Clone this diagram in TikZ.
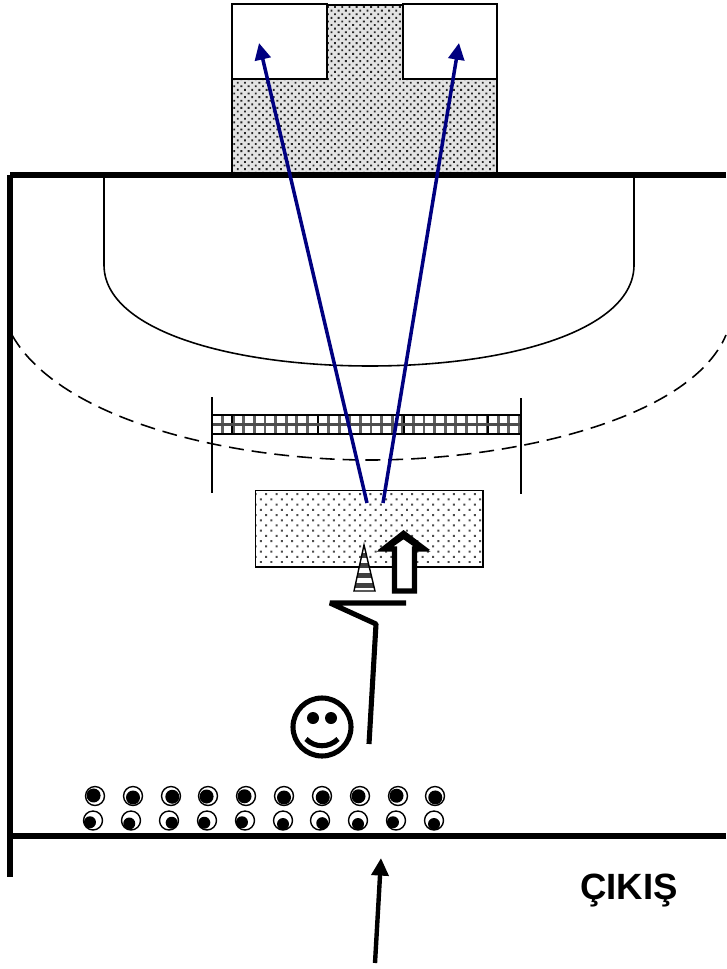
\documentclass[tikz,border=0pt]{standalone}
\usepackage{fontspec}
\setmainfont{Liberation Sans}
\usetikzlibrary{arrows.meta,patterns.meta}
\tikzset{
  wall/.style={line width=2.9pt},
  thinline/.style={line width=0.9pt},
  shot/.style={draw={rgb,255:red,0;green,0;blue,128}, line width=2pt, -{Triangle[length=9.5pt,width=9pt]}},
  denseDots/.style={pattern={Dots[distance=2.9pt,radius=0.75pt,angle=45]}, pattern color=black!85},
  looseDots/.style={pattern={Dots[distance=4.2pt,radius=0.8pt,angle=45]}, pattern color=black!70},
  ball/.style={circle, draw, fill=white, line width=0.8pt, inner sep=0pt, minimum size=10.8pt}
}
\begin{document}
\begin{tikzpicture}[x=0.02cm,y=-0.02cm]
    \useasboundingbox (0,0) rectangle (726,969);
    % Goal box
    \fill[gray!22] (232,80) rectangle (497,175);
    \fill[gray!22] (327,5) rectangle (403,80);
    \fill[denseDots] (232,80) rectangle (497,175);
    \fill[denseDots] (327,5) rectangle (403,80);
    \draw[line width=0.6pt] (327,5) -- (403,5) (232,80) -- (232,175) (497,80) -- (497,175);
    \draw[line width=1.2pt, fill=white] (232,4) rectangle (327,79);
    \draw[line width=1.2pt, fill=white] (403,4) rectangle (497,79);
    % Walls
    \draw[wall] (10,175) -- (726,175);
    \draw[wall] (10,175) -- (10,877);
    \draw[wall] (10,836) -- (726,836);
    % Court lines
    \draw[thinline] (104,177) -- (104,265) .. controls (104,330) and (230,366) .. (370,366)
        .. controls (510,366) and (634,330) .. (634,265) -- (634,177);
    \draw[thinline, dash pattern=on 8.5pt off 4.5pt] (12,335) .. controls (60,420) and (230,460) .. (370,460)
        .. controls (510,460) and (690,420) .. (726,335);
    % Net
    \draw[thinline] (212,397) -- (212,493);
    \draw[thinline] (521,398) -- (521,494);
    \fill[white] (212,415) rectangle (521,434);
    \foreach \x in {222.6,233.2,...,520}
        \draw[gray!75!black, line width=1.6pt] (\x,415) -- (\x,434);
    \foreach \x in {232,318,404,488}
        \draw[line width=1.2pt] (\x,415) -- (\x,434);
    \draw[gray!60!black, line width=1.6pt] (212,424.5) -- (521,424.5);
    \draw[line width=1.3pt] (212,415) rectangle (521,434);
    % Mat
    \draw[line width=1pt, looseDots] (255.5,490.5) rectangle (483,567);
    % Cone
    \begin{scope}
        \clip (364,545) -- (375,591) -- (354,591) -- cycle;
        \fill[white] (350,545) rectangle (380,591);
        \foreach \y in {553,563,573,583}
            \fill[black!75] (350,\y) rectangle (380,\y+4.5);
    \end{scope}
    \draw[line width=0.8pt] (364,545) -- (375,591) -- (354,591) -- cycle;
    % Block arrow
    \draw[line width=3.1pt, fill=white, miter limit=10] (403.5,536) -- (422,549) -- (414.5,549) -- (414.5,591)
        -- (394.5,591) -- (394.5,549) -- (385,549) -- cycle;
    \fill (403.5,530) -- (430,550) -- (414,550) -- (414,545) -- (403.5,538) -- (394,545) -- (394,550) -- (378,550) -- cycle;
    % Player run
    \draw[wall, line join=bevel] (406,603) -- (330,603) -- (376,624) -- (369,744);
    % Smiley
    \node[circle, draw, line width=2.9pt, inner sep=0pt, minimum size=33pt] (face) at (322,727) {};
    \fill (313,718) circle (6);
    \fill (331,718) circle (6);
    \draw[line width=2.9pt] (306,739) .. controls (315,748) and (329,748) .. (338,739);
    % Balls
    \foreach \i/\x/\a in {1/95/200,2/133/90,3/171/30,4/208/160,5/246/170,6/284/90,7/322/60,8/360/170,9/398/190,10/435/80}
    {
        \node[ball] (top\i) at (\x,796) {};
        \fill (top\i.center) ++(\a:1.5) circle (7);
    }
    \foreach \i/\x/\a in {1/93/150,2/131/120,3/169/40,4/207/140,5/245/150,6/283/90,7/320/50,8/358/90,9/396/150,10/434/90}
    {
        \node[ball] (low\i) at (\x,820.5) {};
        \fill (low\i.center) ++(\a:3.5) circle (6);
    }
    % Shots
    \coordinate (shotA) at (367,503);
    \coordinate (shotB) at (383,503);
    \coordinate (cornerA) at (259,43);
    \coordinate (cornerB) at (459,43);
    \draw[shot] (shotA) -- (cornerA);
    \draw[shot] (shotB) -- (cornerB);
    % Way in
    \coordinate (entryFrom) at (375,963);
    \coordinate (entryTo) at (381,858);
    \draw[line width=2.5pt, -{Triangle[length=10pt,width=9.5pt]}] (entryFrom) -- (entryTo);
    \node[font=\bfseries\fontsize{20.8pt}{24pt}\selectfont, anchor=center] (exitLabel) at (629,891) {ÇIKIŞ};
\end{tikzpicture}
\end{document}
